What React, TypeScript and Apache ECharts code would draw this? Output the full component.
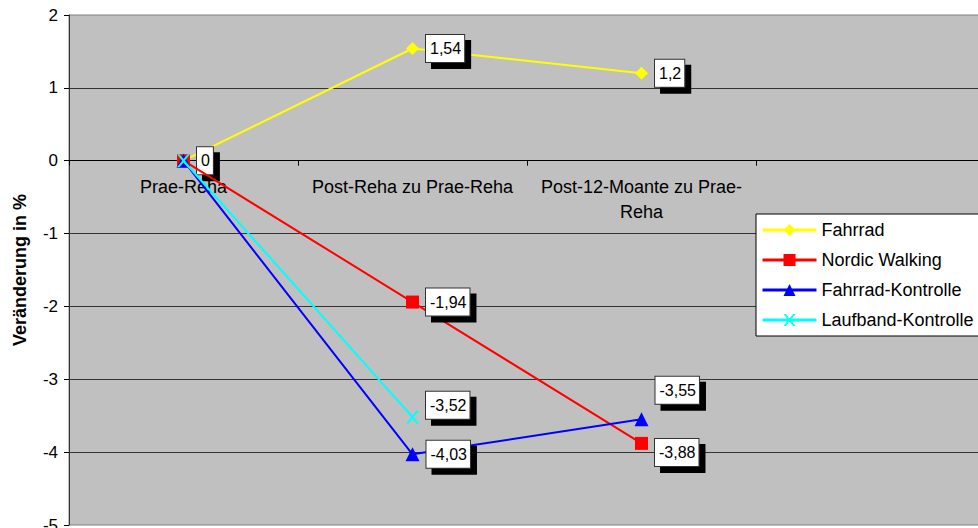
import React, { useEffect, useRef } from "react";
import * as echarts from "echarts";

const categories = ["Prae-Reha", "Post-Reha zu Prae-Reha", "Post-12-Moante zu Prae-Reha", ""];
const seriesNames = ["Fahrrad", "Nordic Walking", "Fahrrad-Kontrolle", "Laufband-Kontrolle"];
const fahrrad = [0, 1.54, 1.2];
const nordicWalking = [0, -1.94, -3.88];
const fahrradKontrolle = [0, -4.03, -3.55];
const laufbandKontrolle = [0, -3.52];
const yTicks = [-5, -4, -3, -2, -1, 0, 1, 2];

const FONT = "'Liberation Sans', Arial, sans-serif";
const CROSS = "path://M0,0L2.6,0L7,5.2L11.4,0L14,0L8.4,7L14,14L11.4,14L7,8.8L2.6,14L0,14L5.6,7Z";

const colors = ["#FFFF00", "#FF0000", "#0000FF", "#00FFFF"];
const symbols = ["diamond", "rect", "triangle", CROSS];
const symbolSizes = [13, 13, 14, 13];
const allData = [fahrrad, nordicWalking, fahrradKontrolle, laufbandKontrolle];
// label vertical offsets per series / point (styling only)
const labelOffsets: Record<string, number> = { "1-2": 9, "2-2": -29, "3-1": -12 };

const fmt = (v: number) => String(v).replace(".", ",");

const GRID_H = 510;

export default function App() {
  const ref = useRef<HTMLDivElement>(null);
  useEffect(() => {
    if (!ref.current) return;
    const chart = echarts.init(ref.current, undefined, { renderer: "svg" });
    const yMin = yTicks[0];
    const yMax = yTicks[yTicks.length - 1];
    const zeroFromBottom = (GRID_H * (0 - yMin)) / (yMax - yMin);
    const series = allData.map((arr, si) => ({
      name: seriesNames[si],
      type: "line",
      color: colors[si],
      symbol: symbols[si],
      symbolSize: symbolSizes[si],
      lineStyle: { width: 2, color: colors[si] },
      itemStyle: { color: colors[si] },
      data: arr.map((v, i) => {
        const show = !(i === 0 && si !== 0);
        const off = labelOffsets[`${si}-${i}`] || 0;
        return {
          value: v,
          label: { show, offset: [0, off] },
        };
      }),
      label: {
        show: true,
        position: "right",
        distance: 7,
        formatter: (p: any) => fmt(p.value),
        color: "#000",
        fontFamily: FONT,
        fontSize: 16,
        backgroundColor: "#fff",
        borderColor: "#333",
        borderWidth: 1,
        padding: [6, 3, 5, 4],
        shadowColor: "#000",
        shadowBlur: 0,
        shadowOffsetX: 6,
        shadowOffsetY: 6,
      },
      z: 2 + si,
    }));

    chart.setOption({
      animation: false,
      grid: {
        left: 69,
        top: 15,
        width: 916,
        height: GRID_H,
        outerBoundsMode: "none",
        containLabel: false,
        show: true,
        backgroundColor: "#C0C0C0",
        borderColor: "#808080",
        borderWidth: 1,
      },
      legend: {
        orient: "vertical",
        left: 756,
        top: 214,
        backgroundColor: "#fff",
        borderColor: "#000",
        borderWidth: 1,
        borderRadius: 0,
        padding: [7, 60, 7, 5],
        itemWidth: 54,
        itemHeight: 15,
        itemGap: 12,
        lineStyle: { width: 3 },
        textStyle: { fontFamily: FONT, fontSize: 18, color: "#000" },
        data: seriesNames,
      },
      xAxis: {
        type: "category",
        data: categories,
        position: "bottom",
        offset: -zeroFromBottom,
        axisLine: { onZero: false, lineStyle: { color: "#000", width: 1 } },
        axisTick: { show: true, length: 5, lineStyle: { color: "#000" } },
        axisLabel: {
          interval: 0,
          margin: 14,
          color: "#000",
          fontFamily: FONT,
          fontSize: 18,
          lineHeight: 25,
          formatter: (v: string) => (v.length > 24 ? v.replace("Prae-", "Prae-\n") : v),
        },
        splitLine: { show: false },
        z: 1,
      },
      yAxis: {
        type: "value",
        min: yMin,
        max: yMax,
        interval: 1,
        name: "Veränderung in %",
        nameLocation: "middle",
        nameGap: 40,
        nameTextStyle: { fontFamily: FONT, fontSize: 18, fontWeight: "bold", color: "#000" },
        axisLine: { show: true, lineStyle: { color: "#333", width: 1 } },
        axisTick: { show: true, length: 5, lineStyle: { color: "#000" } },
        axisLabel: { margin: 11, color: "#000", fontFamily: FONT, fontSize: 17 },
        splitLine: { show: true, showMinLine: false, showMaxLine: false, lineStyle: { color: "#333", width: 1 } },
      },
      series,
    });
    return () => chart.dispose();
  }, []);
  return (
    <div
      ref={ref}
      style={{ position: "fixed", left: 0, top: 0, width: 978, height: 528, background: "#fff" }}
    />
  );
}
